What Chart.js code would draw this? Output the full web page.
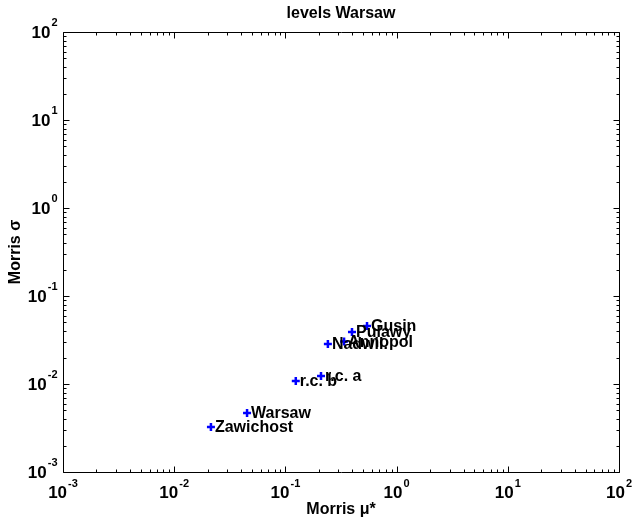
<!DOCTYPE html>
<html>
<head>
<meta charset="utf-8">
<script src="https://cdn.jsdelivr.net/npm/chart.js@4/dist/chart.umd.min.js"></script>
<style>
  html, body { margin: 0; padding: 0; background: #ffffff; }
  #wrap { width: 635px; height: 519px; position: relative; }
</style>
</head>
<body>
<div id="wrap"><canvas id="c" width="635" height="519"></canvas></div>
<script>
// ---- data ----
const categories = ['Zawichost', 'Warsaw', 'r.c. b', 'r.c. a', 'Annopol', 'Nadwil.', 'Pulawy', 'Gusin'];
const muStar = [0.0214, 0.0452, 0.124, 0.209, 0.337, 0.241, 0.397, 0.542];
const sigma  = [0.00324, 0.00468, 0.0108, 0.0123, 0.0305, 0.0285, 0.039, 0.0456];
const xTickExponents = ['-3', '-2', '-1', '0', '1', '2'];
const yTickExponents = ['-3', '-2', '-1', '0', '1', '2'];
const chartTitle = 'levels Warsaw';
const xTitle = 'Morris \u03bc*';
const yTitle = 'Morris \u03c3';

const FONT = '"Liberation Sans", Arial, Helvetica, sans-serif';

const points = muStar.map((v, i) => ({ x: v, y: sigma[i] }));

const axesPlugin = {
  id: 'matlabAxes',
  afterDatasetsDraw(chart) {
    const ctx = chart.ctx;
    const xs = chart.scales.x, ys = chart.scales.y;
    ctx.save();
    ctx.fillStyle = '#000';
    ctx.font = 'bold 16px ' + FONT;
    ctx.textAlign = 'left';
    ctx.textBaseline = 'middle';
    categories.forEach((name, i) => {
      const px = xs.getPixelForValue(muStar[i]);
      const py = ys.getPixelForValue(sigma[i]);
      ctx.fillText(name, px + 4, py + 1);
    });
    ctx.restore();
  },
  afterDraw(chart) {
    const ctx = chart.ctx;
    const xs = chart.scales.x, ys = chart.scales.y;
    const a = chart.chartArea;
    const L = Math.round(a.left) + 0.5, R = Math.round(a.right) + 0.5;
    const T = Math.round(a.top) + 0.5, B = Math.round(a.bottom) + 0.5;
    ctx.save();
    ctx.strokeStyle = '#000';
    ctx.lineWidth = 1;
    ctx.beginPath();
    ctx.rect(L, T, R - L, B - T);
    ctx.stroke();

    const majLen = 6, minLen = 3;
    ctx.beginPath();
    xTickExponents.forEach((e, idx) => {
      const d = parseFloat(e);
      const px = Math.round(xs.getPixelForValue(Math.pow(10, d))) + 0.5;
      ctx.moveTo(px, B); ctx.lineTo(px, B - majLen);
      ctx.moveTo(px, T); ctx.lineTo(px, T + majLen);
      if (idx < xTickExponents.length - 1) {
        for (let k = 2; k <= 9; k++) {
          const mx = Math.round(xs.getPixelForValue(k * Math.pow(10, d))) + 0.5;
          ctx.moveTo(mx, B); ctx.lineTo(mx, B - minLen);
          ctx.moveTo(mx, T); ctx.lineTo(mx, T + minLen);
        }
      }
    });
    yTickExponents.forEach((e, idx) => {
      const d = parseFloat(e);
      const py = Math.round(ys.getPixelForValue(Math.pow(10, d))) + 0.5;
      ctx.moveTo(L, py); ctx.lineTo(L + majLen, py);
      ctx.moveTo(R, py); ctx.lineTo(R - majLen, py);
      if (idx < yTickExponents.length - 1) {
        for (let k = 2; k <= 9; k++) {
          const my = Math.round(ys.getPixelForValue(k * Math.pow(10, d))) + 0.5;
          ctx.moveTo(L, my); ctx.lineTo(L + minLen, my);
          ctx.moveTo(R, my); ctx.lineTo(R - minLen, my);
        }
      }
    });
    ctx.stroke();

    const baseFont = 'bold 17px ' + FONT;
    const expFont = 'bold 11px ' + FONT;
    ctx.fillStyle = '#000';
    ctx.textBaseline = 'middle';
    ctx.textAlign = 'left';
    xTickExponents.forEach((e) => {
      const px = xs.getPixelForValue(Math.pow(10, parseFloat(e)));
      ctx.font = baseFont; const w1 = ctx.measureText('10').width;
      ctx.font = expFont; const w2 = ctx.measureText(e).width;
      const start = px - (w1 + w2 + 1) / 2;
      ctx.font = baseFont; ctx.fillText('10', start, B + 21);
      ctx.font = expFont; ctx.fillText(e, start + w1 + 1, B + 11);
    });
    yTickExponents.forEach((e) => {
      const py = ys.getPixelForValue(Math.pow(10, parseFloat(e)));
      ctx.font = baseFont; const w1 = ctx.measureText('10').width;
      ctx.font = expFont; const w2 = ctx.measureText(e).width;
      const right = L - 6;
      const start = right - w2 - 1 - w1;
      ctx.font = baseFont; ctx.fillText('10', start, py + 1);
      ctx.font = expFont; ctx.fillText(e, start + w1 + 1, py - 9);
    });

    const cx = (a.left + a.right) / 2;
    const cy = (a.top + a.bottom) / 2;
    ctx.textAlign = 'center';
    ctx.font = 'bold 16px ' + FONT;
    ctx.fillText(chartTitle, cx, 14);
    ctx.fillText(xTitle, cx, 510);
    ctx.save();
    ctx.translate(16, cy);
    ctx.rotate(-Math.PI / 2);
    ctx.fillText(yTitle, 0, 0);
    ctx.restore();
    ctx.restore();
  }
};

new Chart(document.getElementById('c'), {
  type: 'scatter',
  data: {
    datasets: [{
      label: 'Morris',
      data: points,
      pointStyle: 'cross',
      pointRadius: 4,
      pointHoverRadius: 4,
      borderWidth: 2.5,
      borderColor: '#0000ff',
      backgroundColor: '#0000ff'
    }]
  },
  options: {
    responsive: false,
    animation: false,
    devicePixelRatio: 1,
    layout: { padding: { left: 63, right: 16, top: 32, bottom: 47 } },
    plugins: { legend: { display: false }, tooltip: { enabled: false }, title: { display: false } },
    scales: {
      x: { type: 'logarithmic', min: 0.001, max: 100, display: false },
      y: { type: 'logarithmic', min: 0.001, max: 100, display: false }
    }
  },
  plugins: [axesPlugin]
});
</script>
</body>
</html>
